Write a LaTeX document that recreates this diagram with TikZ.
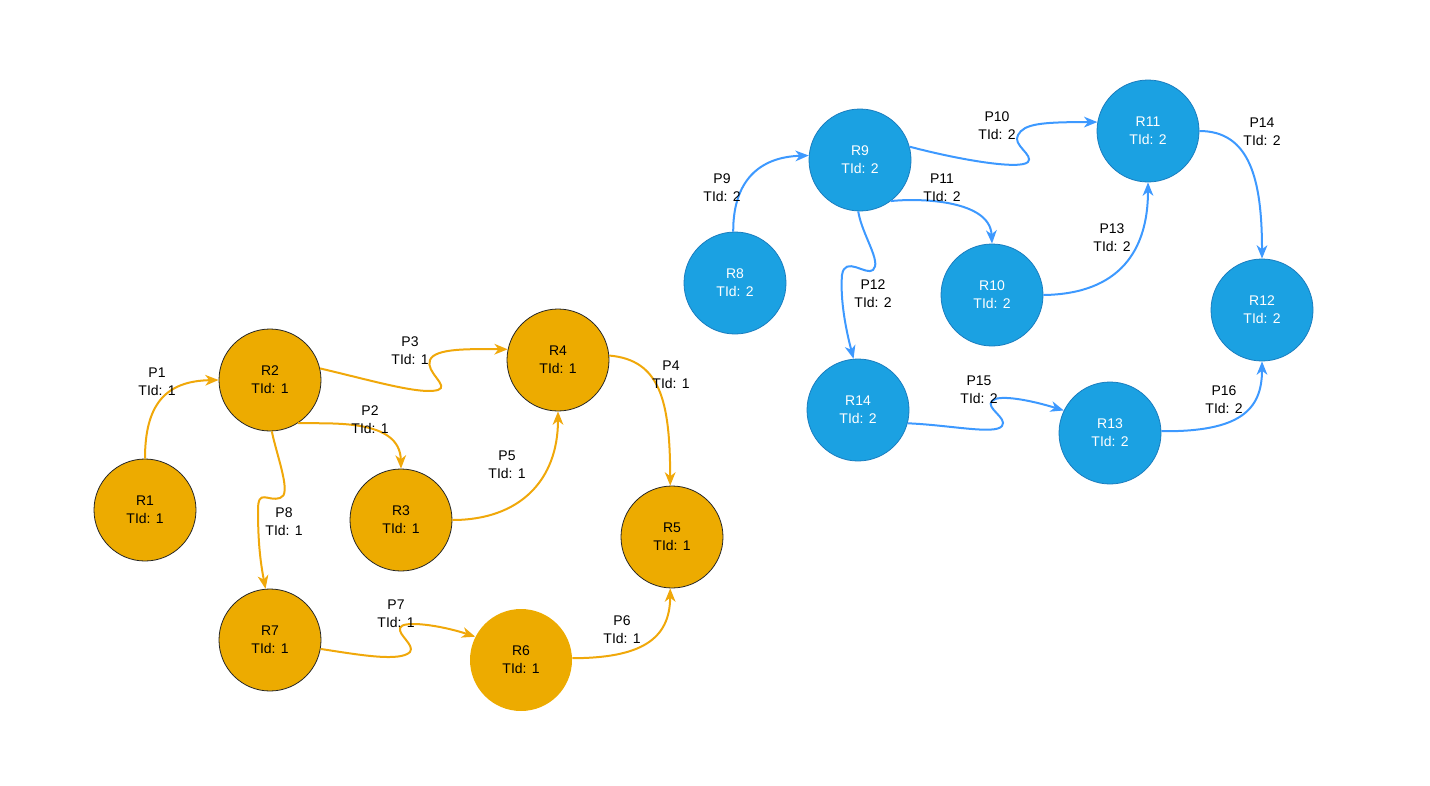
\documentclass[tikz,border=0pt]{standalone}
\usepackage{fontspec}
\setmainfont{Liberation Sans}
\usetikzlibrary{arrows.meta}

\definecolor{ofill}{HTML}{EDAB00}
\definecolor{oline}{HTML}{F0A80A}
\definecolor{bfill}{HTML}{1BA1E2}
\definecolor{bdraw}{HTML}{1A7DBF}
\definecolor{bline}{HTML}{3D99FF}

\tikzset{
  region/.style={circle,minimum size=76.5pt,inner sep=0pt,align=center,
    font=\fontsize{10.5}{13.5}\selectfont},
  oreg/.style={region,fill=ofill,draw=black!85,line width=0.6pt},
  breg/.style={region,fill=bfill,draw=bdraw,line width=0.6pt,text=white},
  path/.style={line width=1.5pt,-{Stealth[length=10pt,width=8pt,inset=3pt]}},
  opath/.style={path,draw=oline},
  bpath/.style={path,draw=bline},
  plabel/.style={align=center,font=\fontsize{10.5}{13.5}\selectfont}
}

\begin{document}
\begin{tikzpicture}[x=0.75pt,y=-0.75pt]
  \useasboundingbox (0,0) rectangle (1430,785);
  % orange regions
  \node[oreg] (R1) at (145,510) {R1\\TId: 1};
  \node[oreg] (R2) at (270,380) {R2\\TId: 1};
  \node[oreg] (R3) at (401,520) {R3\\TId: 1};
  \node[oreg] (R4) at (558,360) {R4\\TId: 1};
  \node[oreg] (R5) at (672,537) {R5\\TId: 1};
  \node[oreg,draw=none] (R6) at (521,660) {R6\\TId: 1};
  \node[oreg] (R7) at (270,640) {R7\\TId: 1};
  % blue regions
  \node[breg] (R8) at (735,283) {R8\\TId: 2};
  \node[breg] (R9) at (860,160) {R9\\TId: 2};
  \node[breg] (R10) at (992,295) {R10\\TId: 2};
  \node[breg] (R11) at (1148,131) {R11\\TId: 2};
  \node[breg] (R12) at (1262,310) {R12\\TId: 2};
  \node[breg] (R13) at (1110,433) {R13\\TId: 2};
  \node[breg] (R14) at (858,410) {R14\\TId: 2};

  % orange paths
  \draw[opath] (R1.90) .. controls (145,405) and (165,381) .. (R2.180);
  \draw[opath] (R2.-57) .. controls (330,424) and (400,418) .. (R3.90);
  \draw[opath] (R2.13) .. controls (370,380) and (420,395) .. (438,390)
    .. controls (450,386) and (425,372) .. (430,360)
    .. controls (435,348) and (470,349) .. (R4.168);
  \draw[opath] (R4.5) .. controls (660,360) and (670,400) .. (R5.92);
  \draw[opath] (R3.0) .. controls (520,520) and (558,480) .. (R4.-90);
  \draw[opath] (R6.2) .. controls (640,658) and (670,640) .. (R5.-92);
  \draw[opath] (R7.-10) .. controls (360,655) and (400,662) .. (410,652)
    .. controls (415,645) and (398,635) .. (400,628)
    .. controls (402,620) and (440,625) .. (R6.153);
  \draw[opath] (R2.-88) .. controls (278,460) and (292,495) .. (280,498)
    .. controls (268,502) and (258,488) .. (258,510)
    .. controls (258,540) and (260,560) .. (R7.95);
  % blue paths
  \draw[bpath] (R8.92) .. controls (733,180) and (760,157) .. (R9.175);
  \draw[bpath] (R9.15) .. controls (960,160) and (1020,170) .. (1028,162)
    .. controls (1034,155) and (1012,145) .. (1018,135)
    .. controls (1024,124) and (1040,122) .. (R11.170);
  \draw[bpath] (R9.-53) .. controls (920,198) and (990,200) .. (R10.90);
  \draw[bpath] (R9.-92) .. controls (862,235) and (882,262) .. (873,270)
    .. controls (866,276) and (845,255) .. (842,275)
    .. controls (840,300) and (846,330) .. (R14.95);
  \draw[bpath] (R10.0) .. controls (1120,294) and (1148,250) .. (R11.-90);
  \draw[bpath] (R11.0) .. controls (1250,131) and (1262,180) .. (R12.90);
  \draw[bpath] (R14.-15) .. controls (950,425) and (995,435) .. (1002,426)
    .. controls (1008,418) and (985,408) .. (992,401)
    .. controls (998,394) and (1030,400) .. (R13.154);
  \draw[bpath] (R13.2) .. controls (1240,432) and (1262,410) .. (R12.-90);

  % path labels
  \node[plabel] (L1) at (157,382) {P1\\TId: 1};
  \node[plabel] (L2) at (370,420) {P2\\TId: 1};
  \node[plabel] (L3) at (410,351) {P3\\TId: 1};
  \node[plabel] (L4) at (671,375) {P4\\TId: 1};
  \node[plabel] (L5) at (507,465) {P5\\TId: 1};
  \node[plabel] (L6) at (622,630) {P6\\TId: 1};
  \node[plabel] (L7) at (396,614) {P7\\TId: 1};
  \node[plabel] (L8) at (284,522) {P8\\TId: 1};
  \node[plabel] (L9) at (722,188) {P9\\TId: 2};
  \node[plabel] (L10) at (997,126) {P10\\TId: 2};
  \node[plabel] (L11) at (942,188) {P11\\TId: 2};
  \node[plabel] (L12) at (873,294) {P12\\TId: 2};
  \node[plabel] (L13) at (1112,238) {P13\\TId: 2};
  \node[plabel] (L14) at (1262,132) {P14\\TId: 2};
  \node[plabel] (L15) at (979,390) {P15\\TId: 2};
  \node[plabel] (L16) at (1224,400) {P16\\TId: 2};
\end{tikzpicture}
\end{document}
